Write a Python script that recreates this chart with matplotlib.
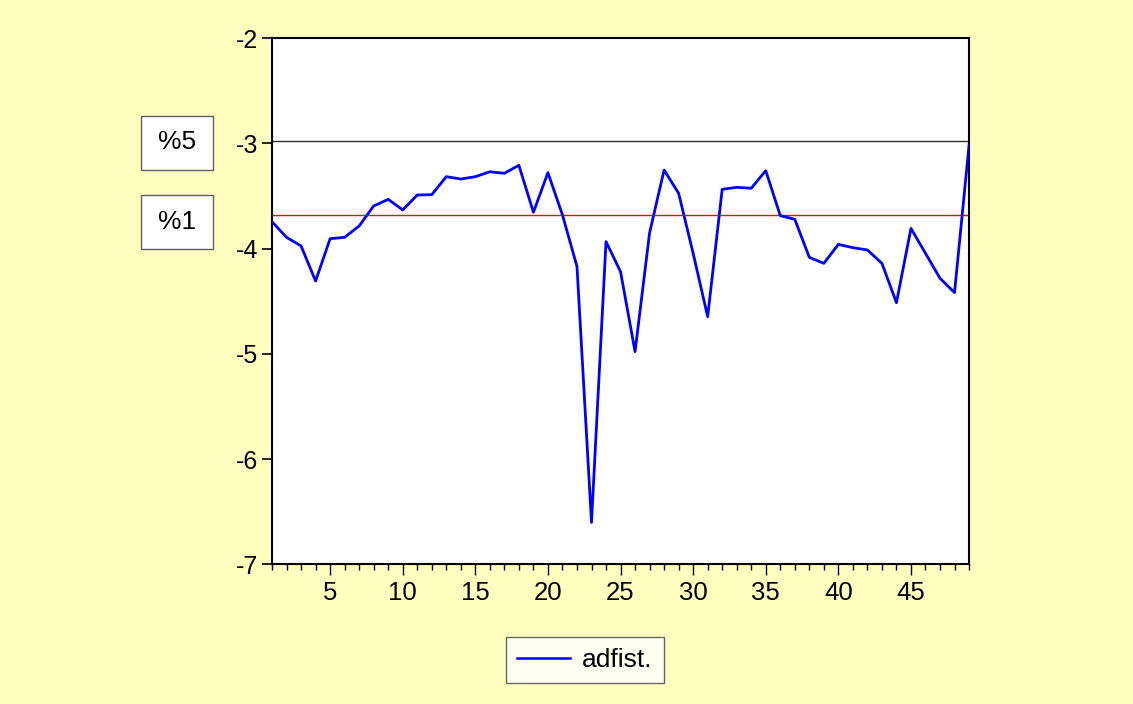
import matplotlib
matplotlib.use("Agg")
import matplotlib.pyplot as plt
from matplotlib.ticker import MultipleLocator
from matplotlib.patches import Rectangle

# ADF statistic by window
periods = list(range(1, 50))
adfist = [-3.745, -3.893, -3.975, -4.308, -3.906, -3.893, -3.785, -3.595, -3.532, -3.633,
          -3.491, -3.488, -3.317, -3.339, -3.317, -3.270, -3.285, -3.209, -3.655, -3.279,
          -3.680, -4.170, -6.600, -3.934, -4.219, -4.979, -3.850, -3.254, -3.475, -4.045,
          -4.647, -3.437, -3.418, -3.427, -3.260, -3.687, -3.722, -4.083, -4.140, -3.960,
          -3.991, -4.013, -4.140, -4.514, -3.808, -4.045, -4.282, -4.418, -3.016]

# critical values
crit_5 = -2.975
crit_1 = -3.684
crit_labels = ["%5", "%1"]

yticks = [-2, -3, -4, -5, -6, -7]
xticks = [5, 10, 15, 20, 25, 30, 35, 40, 45]

bg = "#FFFFC0"
plt.rcParams["font.family"] = ["Liberation Sans", "DejaVu Sans"]
plt.rcParams["axes.unicode_minus"] = False

fig = plt.figure(figsize=(11.33, 7.04), dpi=100, facecolor=bg)
ax = fig.add_axes([0.2401, 0.1982, 0.6152, 0.7478])
ax.set_facecolor("white")

ax.axhline(crit_5, color="#303030", lw=1.0, zorder=2)
ax.axhline(crit_1, color="#FF0000", lw=1.0, zorder=2)
line, = ax.plot(periods, adfist, color="#0000FF", lw=2.0, zorder=3, label="adfist.")

ax.set_xlim(1, 49)
ax.set_ylim(-7, -2)
ax.set_yticks(yticks)
ax.set_xticks(xticks)
ax.xaxis.set_minor_locator(MultipleLocator(1))

for s in ax.spines.values():
    s.set_color("black")
    s.set_linewidth(1.5)

ax.tick_params(axis="y", which="major", direction="out", length=7, width=1.2,
               labelsize=18, pad=3, right=False)
ax.tick_params(axis="x", which="major", direction="out", length=8, width=1.0,
               labelsize=18.5, pad=4, top=False)
ax.tick_params(axis="x", which="minor", direction="out", length=4.3, width=1.0, top=False)

# boxed labels for the critical value lines
fig.patches.append(Rectangle((141 / 1133, 1 - 170 / 704), 72 / 1133, 54 / 704,
                             transform=fig.transFigure, facecolor="white",
                             edgecolor="#606060", lw=1.0, zorder=0))
fig.patches.append(Rectangle((141 / 1133, 1 - 249 / 704), 72 / 1133, 54 / 704,
                             transform=fig.transFigure, facecolor="white",
                             edgecolor="#606060", lw=1.0, zorder=0))
fig.text(177 / 1133, 1 - 142 / 704, crit_labels[0], ha="center", va="center", fontsize=19)
fig.text(177 / 1133, 1 - 222 / 704, crit_labels[1], ha="center", va="center", fontsize=19)

leg = fig.legend(handles=[line], loc="center", bbox_to_anchor=(585 / 1133, 1 - 660 / 704),
                 frameon=True, fancybox=False, fontsize=19, handlelength=2.0,
                 borderpad=0.42, handletextpad=0.45, borderaxespad=0)
leg.get_frame().set_edgecolor("#404040")
leg.get_frame().set_linewidth(1.0)
leg.get_lines()[0].set_linewidth(1.8)

fig.savefig("out.png", dpi=100, facecolor=bg)
